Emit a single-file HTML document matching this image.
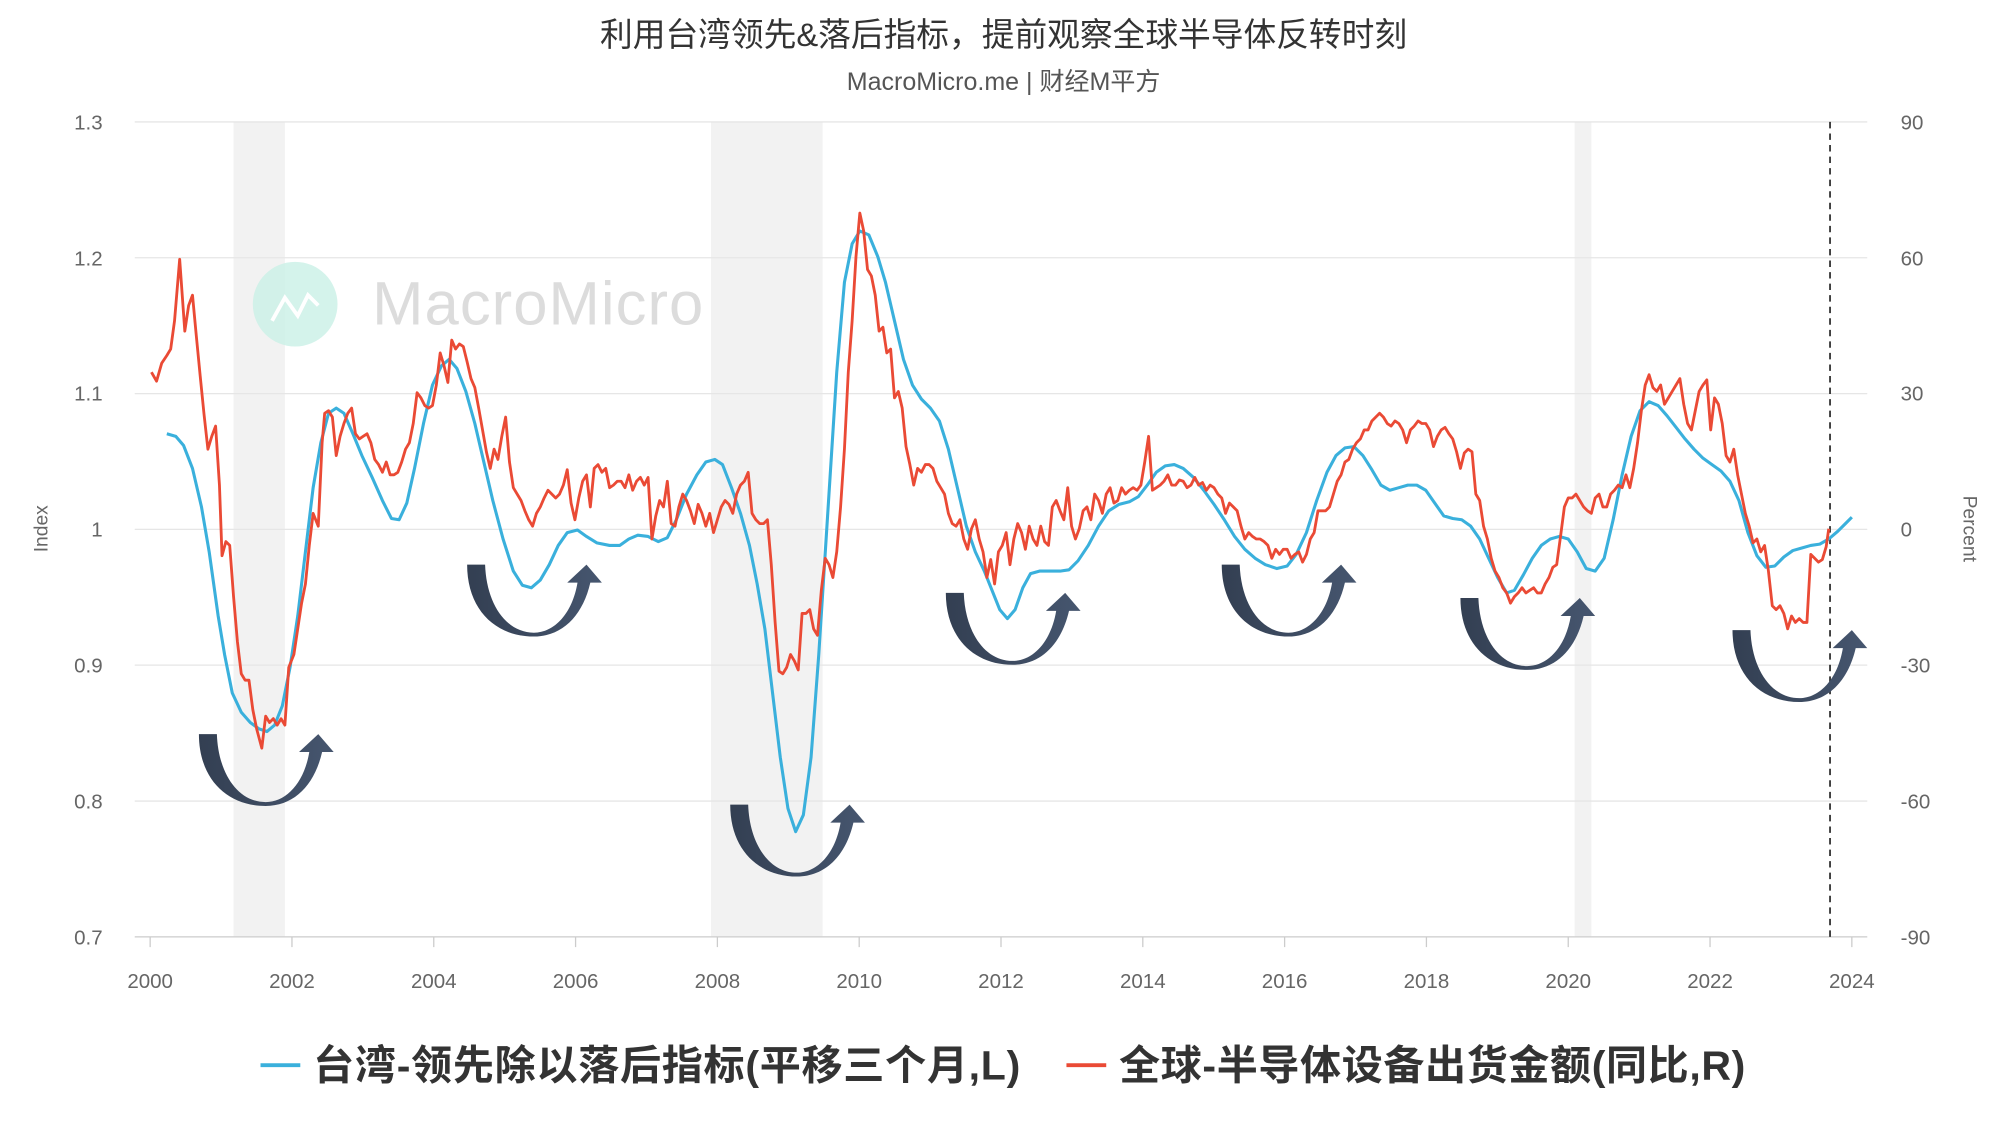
<!DOCTYPE html>
<html><head><meta charset="utf-8"><style>
html,body{margin:0;padding:0;background:#fff;}
svg{display:block;}
text{font-family:"Liberation Sans","Noto Sans CJK SC",sans-serif;}
</style></head><body>
<svg width="2002" height="1125" viewBox="0 0 1560 876.6" xmlns="http://www.w3.org/2000/svg">
<rect width="1560" height="877" fill="#fff"/>
<text x="782" y="36" font-size="25.5" text-anchor="middle" fill="#333">利用台湾领先&amp;落后指标，提前观察全球半导体反转时刻</text>
<text x="782" y="70" font-size="19.5" text-anchor="middle" fill="#555">MacroMicro.me | 财经M平方</text>
<rect x="182" y="95" width="40" height="635" fill="#f2f2f2"/>
<rect x="554" y="95" width="87" height="635" fill="#f2f2f2"/>
<rect x="1227" y="95" width="13" height="635" fill="#f2f2f2"/>
<g stroke="#e6e6e6" stroke-width="1">
<line x1="105" x2="1455" y1="95" y2="95"/><line x1="105" x2="1455" y1="200.8" y2="200.8"/>
<line x1="105" x2="1455" y1="306.7" y2="306.7"/><line x1="105" x2="1455" y1="412.5" y2="412.5"/>
<line x1="105" x2="1455" y1="518.3" y2="518.3"/><line x1="105" x2="1455" y1="624.2" y2="624.2"/>
</g>
<line x1="105" x2="1455" y1="730" y2="730" stroke="#ccc"/>
<g stroke="#ccc">
<line x1="117" x2="117" y1="730" y2="738"/><line x1="227.5" x2="227.5" y1="730" y2="738"/><line x1="338" x2="338" y1="730" y2="738"/><line x1="448.5" x2="448.5" y1="730" y2="738"/><line x1="559" x2="559" y1="730" y2="738"/><line x1="669.5" x2="669.5" y1="730" y2="738"/><line x1="780" x2="780" y1="730" y2="738"/><line x1="890.5" x2="890.5" y1="730" y2="738"/><line x1="1001" x2="1001" y1="730" y2="738"/><line x1="1111.5" x2="1111.5" y1="730" y2="738"/><line x1="1222" x2="1222" y1="730" y2="738"/><line x1="1332.5" x2="1332.5" y1="730" y2="738"/><line x1="1443" x2="1443" y1="730" y2="738"/>
</g>
<g font-size="16" fill="#666" text-anchor="middle">
<text x="117" y="770">2000</text><text x="227.5" y="770">2002</text><text x="338" y="770">2004</text><text x="448.5" y="770">2006</text><text x="559" y="770">2008</text><text x="669.5" y="770">2010</text><text x="780" y="770">2012</text><text x="890.5" y="770">2014</text><text x="1001" y="770">2016</text><text x="1111.5" y="770">2018</text><text x="1222" y="770">2020</text><text x="1332.5" y="770">2022</text><text x="1443" y="770">2024</text>
</g>
<g font-size="16" fill="#666" text-anchor="end">
<text x="80" y="101">1.3</text><text x="80" y="207">1.2</text><text x="80" y="312">1.1</text><text x="80" y="418">1</text><text x="80" y="524">0.9</text><text x="80" y="630">0.8</text><text x="80" y="736">0.7</text>
</g>
<g font-size="16" fill="#666" text-anchor="start">
<text x="1481" y="101">90</text><text x="1481" y="207">60</text><text x="1481" y="312">30</text><text x="1481" y="418">0</text><text x="1481" y="524">-30</text><text x="1481" y="630">-60</text><text x="1481" y="736">-90</text>
</g>
<text transform="translate(37,412) rotate(-90)" font-size="15" fill="#666" text-anchor="middle">Index</text>
<text transform="translate(1530,412) rotate(90)" font-size="15" fill="#666" text-anchor="middle">Percent</text>
<circle cx="230" cy="237" r="33" fill="#c9f0e6" opacity="0.8"/>
<polyline points="212,250 222,232 232,246 240,230 248,238" fill="none" stroke="#fff" stroke-width="3"/>
<text x="290" y="253" font-size="48" fill="#dcdcdc" textLength="258">MacroMicro</text>
<line x1="1426" x2="1426" y1="95" y2="730" stroke="#222" stroke-width="1.3" stroke-dasharray="5,4"/>
<polyline fill="none" stroke="#3ab0dc" stroke-width="2.4" stroke-linejoin="round" points="130,338 137,340 143,347 150,365 157,395 163,430 170,480 175,510 181,540 188,555 195,563 202,568 208,570 214,565 220,550 226,520 232,480 238,430 244,380 250,345 256,322 262,318 268,322 275,338 282,355 290,372 298,390 305,404 311,405 317,392 323,365 330,330 337,300 344,285 350,280 356,287 363,305 370,330 377,360 384,390 392,420 400,445 407,456 414,458 421,452 428,440 435,425 442,415 450,413 457,418 465,423 475,425 483,425 490,420 497,417 505,418 513,422 520,419 527,405 535,385 543,370 550,360 557,358 563,362 570,380 577,400 584,425 590,455 596,490 602,540 608,590 614,630 620,648 626,635 632,590 638,510 645,400 652,290 658,220 664,190 670,180 677,183 684,200 690,220 697,250 704,280 711,300 718,311 725,318 732,328 739,350 746,380 753,410 760,430 767,445 773,460 779,475 785,482 791,475 797,458 803,447 810,445 818,445 826,445 833,444 840,437 848,425 856,410 864,398 872,393 880,391 887,387 894,378 901,368 908,363 915,362 922,365 930,372 938,382 946,393 954,405 962,418 970,428 978,435 986,440 995,443 1003,441 1010,432 1018,415 1026,390 1034,368 1041,355 1048,349 1055,348 1062,355 1069,366 1076,378 1083,382 1090,380 1097,378 1104,378 1111,382 1118,392 1125,402 1132,404 1139,405 1146,410 1153,420 1160,435 1167,450 1174,462 1180,460 1187,448 1194,435 1201,425 1208,420 1215,418 1222,420 1229,430 1236,443 1243,445 1250,435 1257,405 1264,370 1271,340 1278,320 1285,313 1292,316 1299,324 1306,333 1313,342 1320,350 1327,357 1334,362 1341,367 1348,375 1355,390 1362,415 1369,433 1376,442 1383,441 1390,434 1397,429 1404,427 1411,425 1418,424 1425,420 1432,414 1438,408 1443,403"/>
<polyline fill="none" stroke="#ea4a35" stroke-width="2.2" stroke-linejoin="round" points="118,290 122,297 126,283 130,277 133,272 136,250 140,202 144,258 147,238 150,230 153,262 156,293 159,323 162,350 165,340 168,332 171,378 173,433 176,422 179,425 182,465 185,500 188,525 191,530 194,530 197,553 200,568 204,583 207,558 210,563 213,560 216,565 219,560 222,565 225,520 229,510 232,490 235,470 238,455 241,425 244,400 248,410 251,345 253,322 256,320 259,325 262,355 265,340 268,330 271,322 274,318 277,338 280,342 283,340 286,338 289,345 292,358 295,362 298,368 301,360 304,370 307,370 310,368 313,360 316,350 319,345 322,330 325,306 328,310 331,316 334,318 337,316 340,300 343,275 346,285 349,298 352,265 355,272 358,268 361,270 364,282 367,295 370,302 373,318 376,335 379,352 382,365 385,350 388,358 391,340 394,325 397,360 400,380 403,385 406,390 409,398 412,405 415,410 418,400 421,395 424,388 427,382 430,385 433,388 436,385 439,378 442,366 445,392 448,405 451,388 454,375 457,370 460,395 463,365 466,362 469,368 472,365 475,380 478,378 481,375 484,375 487,380 490,370 493,382 496,375 499,372 502,378 505,372 508,420 511,402 514,390 517,395 520,375 523,408 526,410 529,395 532,385 535,390 538,398 541,408 544,393 547,400 550,410 553,400 556,415 559,405 562,395 565,390 568,393 571,400 574,385 577,378 580,375 583,368 586,400 589,405 592,408 595,408 598,405 601,440 604,485 607,523 610,525 613,520 616,510 619,515 622,522 625,478 628,478 631,475 634,490 637,495 640,460 643,435 646,440 649,450 652,430 655,395 658,350 661,290 664,250 667,200 670,166 673,180 676,210 679,215 682,230 685,258 688,255 691,275 694,272 697,310 700,305 703,318 706,348 709,362 712,378 715,365 718,368 721,362 724,362 727,365 730,375 733,380 736,385 739,400 742,408 745,410 748,405 751,420 754,428 757,412 760,405 763,420 766,430 769,450 772,436 775,455 778,430 781,425 784,415 787,440 790,420 793,408 796,415 799,428 802,410 805,420 808,425 811,410 814,422 817,425 820,395 823,390 826,398 829,405 832,380 835,410 838,420 841,412 844,398 847,395 850,405 853,385 856,390 859,400 862,385 865,380 868,392 871,390 874,380 877,385 880,382 883,380 886,382 889,378 892,360 895,340 898,382 901,380 904,378 907,375 910,370 913,378 916,378 919,374 922,375 925,380 928,378 931,372 934,378 937,376 940,382 943,378 946,380 949,385 952,388 955,400 958,392 961,395 964,398 967,410 970,420 973,415 976,418 979,420 982,420 985,422 988,425 991,435 994,428 997,432 1000,428 1003,428 1006,435 1009,432 1012,430 1015,438 1018,432 1021,420 1024,415 1027,398 1030,398 1033,398 1036,395 1039,385 1042,375 1045,370 1048,360 1051,358 1054,350 1057,345 1060,342 1063,335 1066,335 1069,328 1072,325 1075,322 1078,325 1081,330 1084,332 1087,328 1090,330 1093,335 1096,345 1099,335 1102,332 1105,328 1108,330 1111,330 1114,335 1117,348 1120,340 1123,335 1126,333 1129,338 1132,342 1135,352 1138,365 1141,353 1144,350 1147,352 1150,385 1153,390 1156,410 1159,420 1162,435 1165,445 1168,450 1171,458 1174,462 1177,470 1180,465 1183,462 1186,458 1189,462 1192,460 1195,458 1198,462 1201,462 1204,455 1207,450 1210,442 1213,440 1216,418 1219,395 1222,388 1225,388 1228,385 1231,390 1234,395 1237,398 1240,400 1243,388 1246,385 1249,395 1252,395 1255,385 1258,382 1261,378 1264,380 1267,370 1270,380 1273,365 1276,345 1279,320 1282,300 1285,292 1288,302 1291,305 1294,300 1297,315 1300,310 1303,305 1306,300 1309,295 1312,315 1315,330 1318,335 1321,320 1324,305 1327,300 1330,296 1333,335 1336,310 1339,315 1342,330 1345,355 1348,360 1351,350 1354,370 1357,385 1360,400 1363,410 1366,423 1369,420 1372,430 1375,425 1378,445 1381,472 1384,475 1387,472 1390,478 1393,490 1396,480 1399,485 1402,482 1405,485 1408,485 1411,432 1414,435 1417,438 1420,436 1423,426 1425,412"/>
<defs>
<linearGradient id="ag" x1="0" x2="1" y1="0" y2="0"><stop offset="0" stop-color="#333f52"/><stop offset="1" stop-color="#46566f"/></linearGradient>
<path id="arr" fill="url(#ag)" d="M0,0 L14,0 C15,30 30,53 52,53 C68,53 82,38 86,14 L78,14 L93,0 L105,14 L96,14 C90,40 74,56 52,56 C22,56 0,35 0,0 Z"/>
</defs>
<use href="#arr" transform="translate(155,572)"/>
<use href="#arr" transform="translate(364,440)"/>
<use href="#arr" transform="translate(569,627)"/>
<use href="#arr" transform="translate(737,462)"/>
<use href="#arr" transform="translate(952,440)"/>
<use href="#arr" transform="translate(1138,466)"/>
<use href="#arr" transform="translate(1350,491)"/>
<line x1="203" x2="234" y1="830" y2="830" stroke="#3ab0dc" stroke-width="3"/>
<text x="244" y="841" font-size="32" font-weight="bold" fill="#333" textLength="551">台湾-领先除以落后指标(平移三个月,L)</text>
<line x1="831" x2="862" y1="830" y2="830" stroke="#ea4a35" stroke-width="3"/>
<text x="872" y="841" font-size="32" font-weight="bold" fill="#333" textLength="488">全球-半导体设备出货金额(同比,R)</text>
</svg>
</body></html>
